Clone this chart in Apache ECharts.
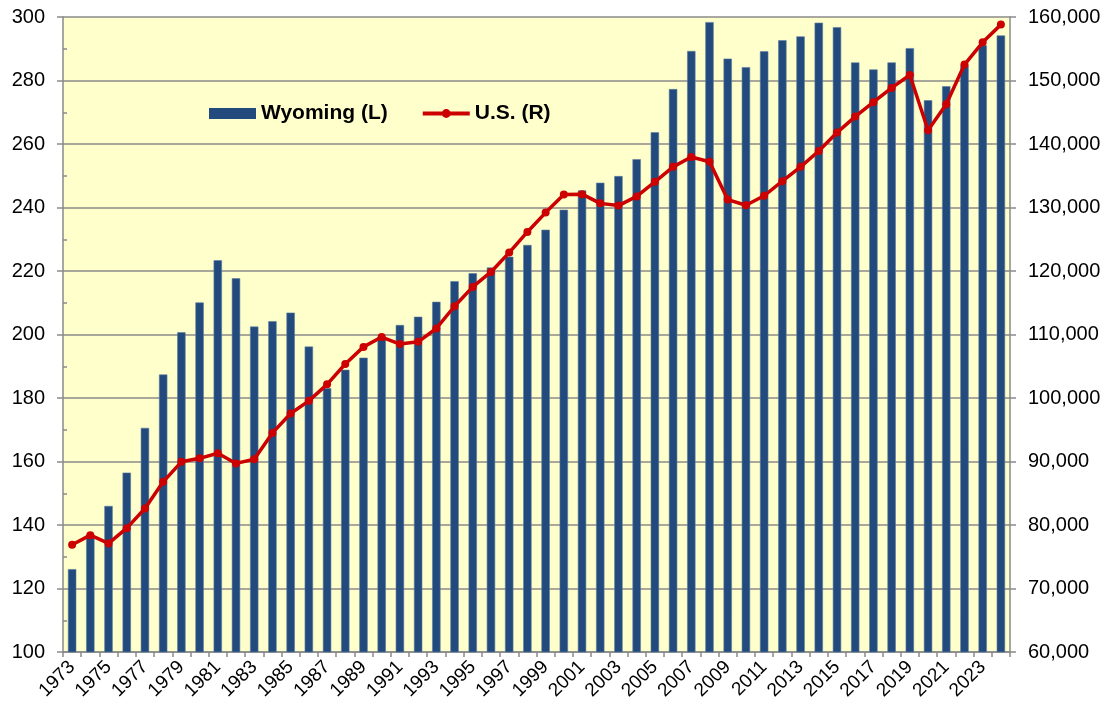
<!DOCTYPE html>
<html>
<head>
<meta charset="utf-8">
<title>Wyoming vs U.S.</title>
<script src="https://cdn.jsdelivr.net/npm/echarts@6/dist/echarts.min.js"></script>
<style>
  html, body { margin: 0; padding: 0; background: #fff; }
  #chart { width: 1107px; height: 704px; }
</style>
</head>
<body>
<div id="chart"></div>
<script>
// 年份（x轴）
const years = ['1973', '1974', '1975', '1976', '1977', '1978', '1979', '1980', '1981', '1982',
  '1983', '1984', '1985', '1986', '1987', '1988', '1989', '1990', '1991', '1992',
  '1993', '1994', '1995', '1996', '1997', '1998', '1999', '2000', '2001', '2002',
  '2003', '2004', '2005', '2006', '2007', '2008', '2009', '2010', '2011', '2012',
  '2013', '2014', '2015', '2016', '2017', '2018', '2019', '2020', '2021', '2022',
  '2023', '2024'];

// Wyoming (左轴)
const wyoming = [126.1, 137.0, 146.0, 156.5, 170.6, 187.4, 200.7, 210.1, 223.4, 217.7,
  202.5, 204.2, 206.9, 196.2, 183.1, 188.9, 192.7, 199.3, 203.0, 205.6,
  210.3, 216.8, 219.3, 221.1, 224.5, 228.2, 233.0, 239.3, 245.4, 247.8,
  249.9, 255.2, 263.7, 277.3, 289.3, 298.4, 286.9, 284.2, 289.2, 292.7,
  293.9, 298.2, 296.8, 285.7, 283.5, 285.7, 290.2, 273.8, 278.2, 284.8,
  291.1, 294.2];

// U.S. (右轴)
const us = [76900, 78400, 77100, 79500, 82600, 86800, 89950, 90500, 91300, 89700,
  90350, 94500, 97550, 99550, 102150, 105350, 108050, 109600, 108500, 108850,
  110950, 114450, 117500, 119850, 122900, 126150, 129200, 132050, 132100, 130650,
  130300, 131750, 134050, 136400, 137950, 137200, 131250, 130350, 131850, 134150,
  136400, 138900, 141800, 144320, 146580, 148830, 150870, 142170, 146270, 152510,
  156020, 158800];

const leftTicks = { min: 100, max: 300, interval: 20 };
const rightTicks = { min: 60000, max: 160000, interval: 10000 };

const gridColor = '#8A8A8A';
const labelFont = 'Liberation Sans, Arial, sans-serif';

const chart = echarts.init(document.getElementById('chart'), null, { renderer: 'canvas' });

const option = {
  animation: false,
  backgroundColor: '#ffffff',
  grid: {
    left: 63,
    right: 97,
    top: 17,
    bottom: 52,
    outerBoundsMode: 'none',
    show: true,
    backgroundColor: '#FFFFCC',
    borderWidth: 0
  },
  legend: {
    left: 209,
    top: 103,
    padding: 0,
    itemWidth: 47,
    itemHeight: 11,
    itemGap: 33,
    textStyle: {
      fontFamily: labelFont,
      fontWeight: 'bold',
      fontSize: 21,
      color: '#000'
    },
    data: [
      { name: 'Wyoming (L)', icon: 'rect', itemStyle: { borderWidth: 0 } },
      { name: 'U.S. (R)', lineStyle: { width: 4 } }
    ]
  },
  xAxis: {
    type: 'category',
    data: years,
    boundaryGap: true,
    axisLine: { lineStyle: { color: gridColor, width: 1.5 } },
    axisTick: {
      show: true,
      interval: 0,
      length: 5,
      lineStyle: { color: gridColor, width: 1.5 }
    },
    axisLabel: {
      interval: 1,
      rotate: 45,
      margin: 12,
      fontFamily: labelFont,
      fontSize: 19,
      color: '#000'
    },
    splitLine: { show: false }
  },
  yAxis: [
    {
      type: 'value',
      position: 'left',
      min: leftTicks.min,
      max: leftTicks.max,
      interval: leftTicks.interval,
      axisLine: { show: true, lineStyle: { color: gridColor, width: 1.5 } },
      axisTick: { show: true, length: 6, lineStyle: { color: gridColor, width: 1.5 } },
      minorTick: { show: true, splitNumber: 2, length: -4, lineStyle: { color: gridColor, width: 1.5 } },
      axisLabel: {
        margin: 18,
        fontFamily: labelFont,
        fontSize: 20,
        color: '#000'
      },
      splitLine: { show: true, lineStyle: { color: gridColor, width: 1.5 } }
    },
    {
      type: 'value',
      position: 'right',
      min: rightTicks.min,
      max: rightTicks.max,
      interval: rightTicks.interval,
      axisLine: { show: true, lineStyle: { color: gridColor, width: 1.5 } },
      axisTick: { show: true, length: 6, lineStyle: { color: gridColor, width: 1.5 } },
      axisLabel: {
        margin: 18,
        fontFamily: labelFont,
        fontSize: 20,
        color: '#000',
        formatter: function (v) {
          return v.toLocaleString('en-US');
        }
      },
      splitLine: { show: false }
    }
  ],
  series: [
    {
      name: 'Wyoming (L)',
      type: 'bar',
      yAxisIndex: 0,
      data: wyoming,
      barWidth: '46%',
      itemStyle: {
        color: '#224A7C',
        borderColor: '#5E7DA3',
        borderWidth: 0.6
      },
      z: 2
    },
    {
      name: 'U.S. (R)',
      type: 'line',
      yAxisIndex: 1,
      data: us,
      symbol: 'circle',
      symbolSize: 8,
      color: '#CC0000',
      lineStyle: { color: '#CC0000', width: 3.5 },
      itemStyle: { color: '#CC0000' },
      z: 3
    }
  ]
};

chart.setOption(option);
</script>
</body>
</html>
